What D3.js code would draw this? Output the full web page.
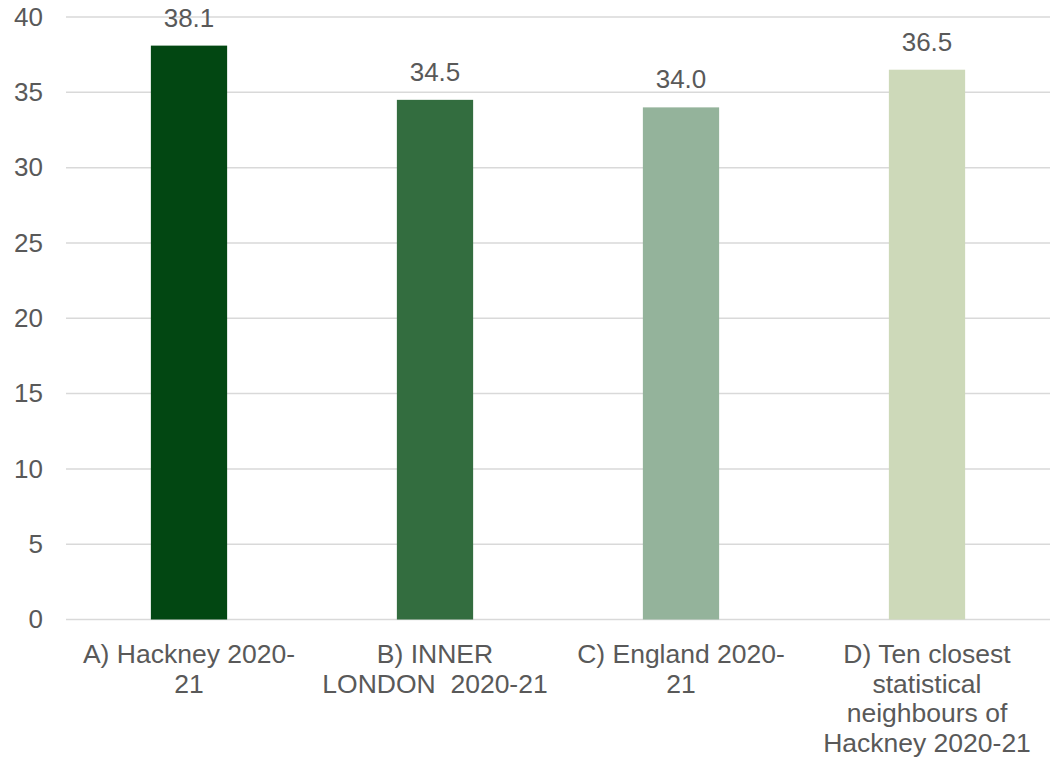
<!DOCTYPE html>
<html>
<head>
<meta charset="utf-8">
<script src="https://cdn.jsdelivr.net/npm/d3@7"></script>
<style>
  html, body { margin: 0; padding: 0; background: #ffffff; }
  svg { display: block; }
  text { font-family: "Liberation Sans", Arial, sans-serif; fill: #595959; }
</style>
</head>
<body>
<svg id="chart" width="1050" height="760"></svg>
<script>
// Categories (each split into the lines shown under the axis)
const categories = [
  "A) Hackney 2020-21",
  "B) INNER LONDON 2020-21",
  "C) England 2020-21",
  "D) Ten closest statistical neighbours of Hackney 2020-21"
];
const categoryLines = [
  ["A) Hackney 2020-", "21"],
  ["B) INNER", "LONDON  2020-21"],
  ["C) England 2020-", "21"],
  ["D) Ten closest", "statistical", "neighbours of", "Hackney 2020-21"]
];
const values = [38.1, 34.5, 34.0, 36.5];
const barColors = ["#024712", "#336d3f", "#94b39b", "#cdd9b9"];
const yTicks = [0, 5, 10, 15, 20, 25, 30, 35, 40];

const svg = d3.select("#chart");

const x = d3.scaleBand()
  .domain(categories)
  .range([66, 1050])
  .paddingInner(0.69)
  .paddingOuter(0.345);

const y = d3.scaleLinear()
  .domain([0, 40])
  .range([619.5, 17]);

// Horizontal gridlines
svg.append("g")
  .selectAll("line")
  .data(yTicks)
  .join("line")
  .attr("x1", 66)
  .attr("x2", 1050)
  .attr("y1", d => y(d))
  .attr("y2", d => y(d))
  .attr("stroke", "#d9d9d9")
  .attr("stroke-width", 1.5);

// Y axis labels
const yAxis = d3.axisLeft(y).tickValues(yTicks).tickSize(0).tickPadding(0);
const gy = svg.append("g")
  .attr("transform", "translate(43,0)")
  .call(yAxis);
gy.select(".domain").remove();
gy.selectAll("text")
  .style("font-family", "'Liberation Sans', Arial, sans-serif")
  .attr("font-size", 26)
  .attr("fill", "#595959");

// Bars
svg.append("g")
  .selectAll("rect")
  .data(values)
  .join("rect")
  .attr("x", (d, i) => x(categories[i]))
  .attr("width", x.bandwidth())
  .attr("y", d => y(d))
  .attr("height", d => y(0) - y(d))
  .attr("fill", (d, i) => barColors[i]);

// Value labels
svg.append("g")
  .selectAll("text")
  .data(values)
  .join("text")
  .attr("x", (d, i) => x(categories[i]) + x.bandwidth() / 2)
  .attr("y", d => y(d) - 19)
  .attr("text-anchor", "middle")
  .attr("font-size", 26)
  .text(d => d.toFixed(1));

// Category labels
const cat = svg.append("g")
  .selectAll("text")
  .data(categories)
  .join("text")
  .attr("x", d => x(d) + x.bandwidth() / 2)
  .attr("y", 663)
  .attr("text-anchor", "middle")
  .attr("font-size", 26.5)
  .style("white-space", "pre");

cat.each(function(d, i) {
  const t = d3.select(this);
  const cx = x(d) + x.bandwidth() / 2;
  categoryLines[i].forEach((line, j) => {
    t.append("tspan")
      .attr("x", cx)
      .attr("dy", j === 0 ? 0 : 29.7)
      .text(line);
  });
});
</script>
</body>
</html>
